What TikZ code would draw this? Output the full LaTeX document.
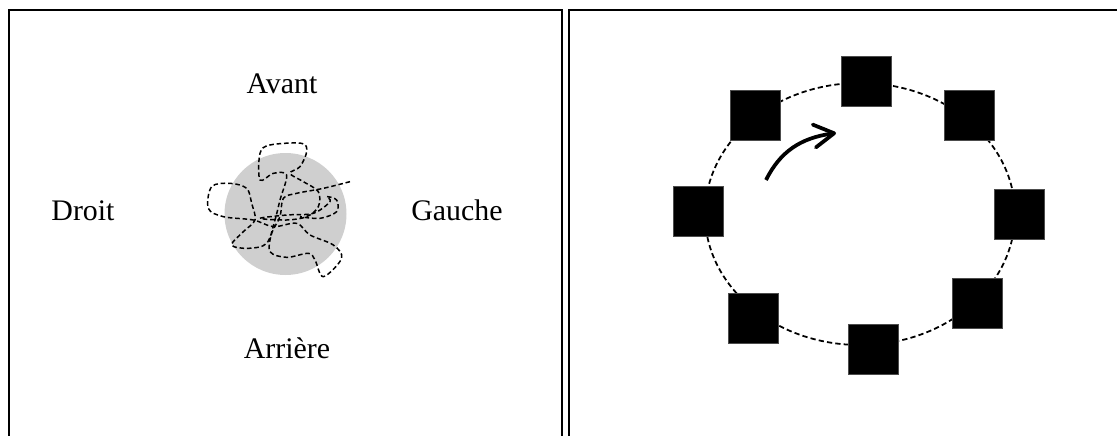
\documentclass[tikz,border=0pt]{standalone}
\usepackage{fontspec}
\setmainfont{Liberation Serif}
\usepackage{tikz}
\usetikzlibrary{arrows.meta}
\definecolor{discgray}{RGB}{207,207,207}
\tikzset{
  frame/.style={line width=1pt},
  label/.style={font=\fontsize{17}{20}\selectfont, anchor=base, inner sep=0pt},
  block/.style={fill=black, draw=black!70, line width=0.3pt, minimum size=1cm, inner sep=0pt},
  scribble/.style={line width=0.85pt, dash pattern=on 2.6pt off 1.6pt},
  track/.style={line width=1pt, dash pattern=on 3pt off 1.8pt}
}
\begin{document}
\begin{tikzpicture}[x=0.02cm, y=-0.02cm]
			%%%%% START %%%%%
			\useasboundingbox (0, 0) rectangle (1117, 436);
			
			% left panel
			\draw[frame] (9, 10) rectangle (562, 450);
			
			\node[label] (avant) at (282, 93) {Avant};
			\node[label] (droit) at (83, 220) {Droit};
			\node[label] (gauche) at (457, 220) {Gauche};
			\node[label] (arriere) at (287, 358) {Arrière};
			
			\fill[discgray] (285.5, 214) circle (61);
			
			\begin{scope}[shift={(190, 120)}, xscale=1/3, yscale=1/3]
			\draw[scribble] plot[smooth, tension=0.55] coordinates {
				(480,185) (400,205) (320,220) (280,235) (270,290) (245,340)
				(240,395) (290,412) (355,400) (375,420) (400,470) (455,415)
				(430,375) (360,345) (320,310) (250,320) (190,300) (100,290)
				(55,265) (65,200) (120,190) (170,205) (185,250) (195,300)
				(160,335) (125,375) (175,385) (230,370) (255,300) (270,240)
				(290,165) (250,160) (210,180) (210,100) (240,75) (335,70)
				(350,95) (330,140) (300,160) (340,185) (385,215) (385,260)
				(350,290) (290,300) (210,295) (290,285) (370,280) (420,245)
				(410,230) (440,240) (440,275) (390,295) (330,290)};
			\end{scope}
			
			% right panel
			\draw[frame] (569, 10) rectangle (1130, 450);
			
			\draw[track] (860, 214) ellipse (155 and 131);
			
			\node[block] (sqn) at (866, 81) {};
			\node[block] (sqnw) at (755, 115) {};
			\node[block] (sqne) at (969, 115) {};
			\node[block] (sqw) at (698, 211) {};
			\node[block] (sqe) at (1019, 214) {};
			\node[block] (sqsw) at (753, 318) {};
			\node[block] (sqs) at (873, 349) {};
			\node[block] (sqse) at (977, 303) {};
			
			\coordinate (turnstart) at (766, 180);
			\coordinate (turnend) at (836, 133);
			\draw[line width=0.75mm, -{Straight Barb[length=4mm, width=4.6mm, line width=0.75mm, round]}]
				(turnstart) .. controls (780, 152) and (800, 138) .. (turnend);
			%%%%% END %%%%%
\end{tikzpicture}
\end{document}
